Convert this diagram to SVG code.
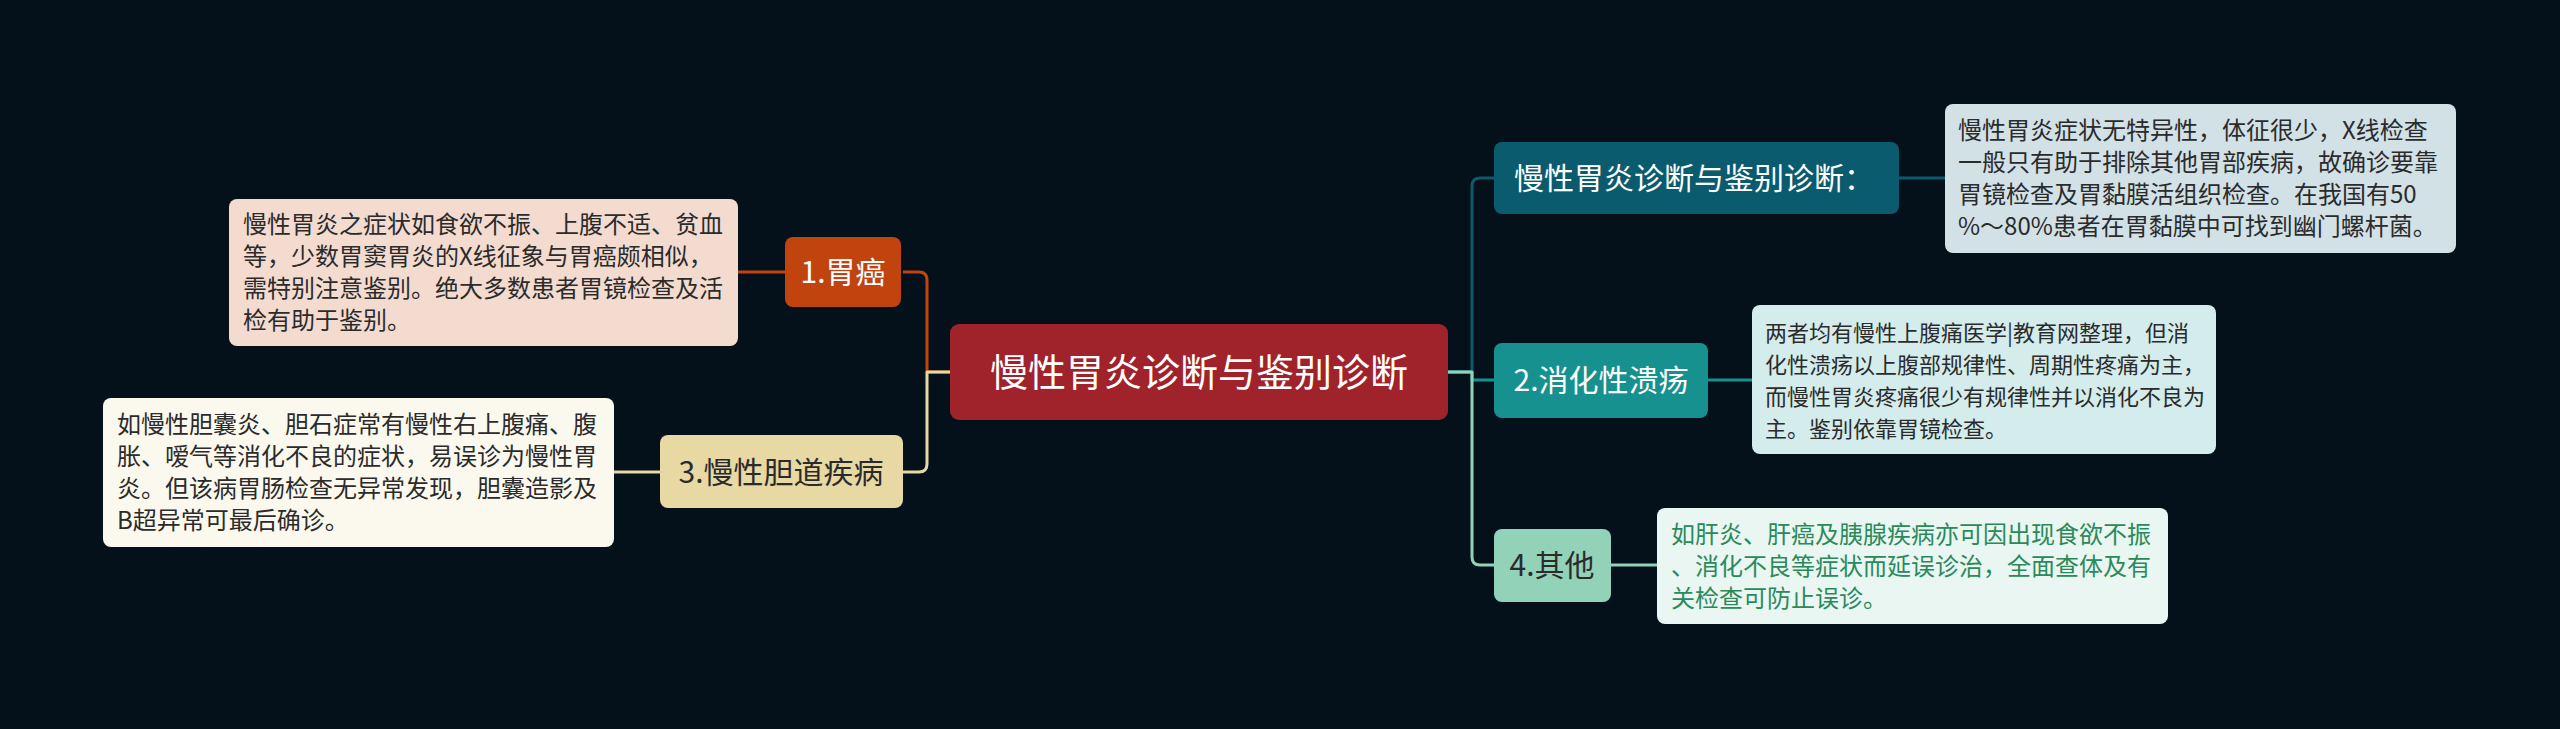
<svg xmlns="http://www.w3.org/2000/svg" width="2560" height="729" viewBox="0 0 2560 729">
<style>
text{font-family:"Noto Sans CJK SC","Noto Sans",sans-serif;}
.node{font-size:30px;text-anchor:middle;}
.desc{font-size:24px;fill:#2b2b2b;}
.desc-s{font-size:22px;fill:#2b2b2b;}
.green{fill:#2a8a5c;}
.link{fill:none;stroke-width:3;stroke-linejoin:round;}
</style>
<rect width="2560" height="729" fill="#04111a"/>
<g id="connectors">
<path class="link" stroke="#c1440e" d="M950,372 H927 V280 Q927,272 919,272 H903"/>
<path class="link" stroke="#e8d8a4" d="M950,372 H927 V464 Q927,472 919,472 H903"/>
<path class="link" stroke="#c1440e" d="M785,272 H738"/>
<path class="link" stroke="#e8d8a4" d="M660,472 H614"/>
<path class="link" stroke="#0b5b6e" d="M1448,372 H1472 V186 Q1472,178 1480,178 H1494"/>
<path class="link" stroke="#16918f" d="M1448,372 H1472 V380 H1494"/>
<path class="link" stroke="#92d2b8" d="M1448,372 H1472 V557 Q1472,565 1480,565 H1494"/>
<path class="link" stroke="#0b5b6e" d="M1899,178 H1945"/>
<path class="link" stroke="#16918f" d="M1708,380 H1752"/>
<path class="link" stroke="#92d2b8" d="M1611,565 H1657"/>
</g>
<g id="center">
<rect x="950" y="324" width="498" height="96" rx="9" fill="#a0232b"/>
<text x="1199" y="386" font-size="38" text-anchor="middle" fill="#ffffff">慢性胃炎诊断与鉴别诊断</text>
</g>
<g id="n1">
<rect x="785" y="237" width="116" height="70" rx="8" fill="#c1440e"/>
<text class="node" x="843" y="283" fill="#ffffff">1.胃癌</text>
</g>
<g id="d1">
<rect x="229" y="199" width="509" height="147" rx="8" fill="#f3dbd0"/>
<text class="desc" x="243" y="233">慢性胃炎之症状如食欲不振、上腹不适、贫血</text>
<text class="desc" x="243" y="265">等，少数胃窦胃炎的X线征象与胃癌颇相似，</text>
<text class="desc" x="243" y="297">需特别注意鉴别。绝大多数患者胃镜检查及活</text>
<text class="desc" x="243" y="329">检有助于鉴别。</text>
</g>
<g id="n3">
<rect x="660" y="435" width="243" height="73" rx="8" fill="#e8d8a4"/>
<text class="node" x="781" y="483" fill="#2b2b2b">3.慢性胆道疾病</text>
</g>
<g id="d3">
<rect x="103" y="398" width="511" height="149" rx="8" fill="#fbf8ee"/>
<text class="desc" x="117" y="433">如慢性胆囊炎、胆石症常有慢性右上腹痛、腹</text>
<text class="desc" x="117" y="465">胀、嗳气等消化不良的症状，易误诊为慢性胃</text>
<text class="desc" x="117" y="497">炎。但该病胃肠检查无异常发现，胆囊造影及</text>
<text class="desc" x="117" y="529">B超异常可最后确诊。</text>
</g>
<g id="n-main">
<rect x="1494" y="142" width="405" height="72" rx="8" fill="#0b5b6e"/>
<text x="1514" y="189" font-size="30" fill="#ffffff">慢性胃炎诊断与鉴别诊断：</text>
</g>
<g id="d-main">
<rect x="1945" y="104" width="511" height="149" rx="8" fill="#d1e1e6"/>
<text class="desc" x="1958" y="139">慢性胃炎症状无特异性，体征很少，X线检查</text>
<text class="desc" x="1958" y="171">一般只有助于排除其他胃部疾病，故确诊要靠</text>
<text class="desc" x="1958" y="203">胃镜检查及胃黏膜活组织检查。在我国有50</text>
<text class="desc" x="1958" y="235">%～80%患者在胃黏膜中可找到幽门螺杆菌。</text>
</g>
<g id="n2">
<rect x="1494" y="343" width="214" height="75" rx="8" fill="#16918f"/>
<text class="node" x="1601" y="391" fill="#ffffff">2.消化性溃疡</text>
</g>
<g id="d2">
<rect x="1752" y="305" width="464" height="149" rx="8" fill="#d4ecec"/>
<text class="desc-s" x="1765" y="341">两者均有慢性上腹痛医学|教育网整理，但消</text>
<text class="desc-s" x="1765" y="373">化性溃疡以上腹部规律性、周期性疼痛为主，</text>
<text class="desc-s" x="1765" y="405">而慢性胃炎疼痛很少有规律性并以消化不良为</text>
<text class="desc-s" x="1765" y="437">主。鉴别依靠胃镜检查。</text>
</g>
<g id="n4">
<rect x="1494" y="529" width="117" height="73" rx="8" fill="#92d2b8"/>
<text class="node" x="1552" y="576" fill="#2b2b2b">4.其他</text>
</g>
<g id="d4">
<rect x="1657" y="508" width="511" height="116" rx="8" fill="#e9f6f1"/>
<text class="desc green" x="1671" y="543">如肝炎、肝癌及胰腺疾病亦可因出现食欲不振</text>
<text class="desc green" x="1671" y="575">、消化不良等症状而延误诊治，全面查体及有</text>
<text class="desc green" x="1671" y="607">关检查可防止误诊。</text>
</g>
</svg>
